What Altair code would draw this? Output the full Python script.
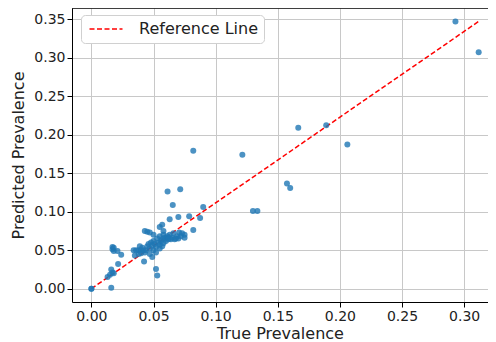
import altair as alt
import pandas as pd

true_vals = [
    0.0, 0.0, 0.016, 0.013, 0.015, 0.017, 0.016, 0.018, 0.0215,
    0.017, 0.018, 0.017, 0.018, 0.021, 0.024,
    0.034, 0.036, 0.038, 0.040, 0.042, 0.035, 0.038, 0.040, 0.0424,
    0.049, 0.052, 0.053,
    0.043, 0.045, 0.047, 0.050, 0.055, 0.057, 0.058,
    0.063, 0.0655, 0.0613, 0.0715, 0.070, 0.0787, 0.0875, 0.090,
    0.0706, 0.082,
    0.045, 0.046, 0.047, 0.048, 0.049, 0.050, 0.050, 0.051, 0.052, 0.053,
    0.054, 0.055, 0.055, 0.056, 0.057, 0.058, 0.058, 0.059, 0.060, 0.060,
    0.061, 0.062, 0.062, 0.063, 0.064, 0.065, 0.066, 0.067, 0.068, 0.069,
    0.070, 0.072, 0.073, 0.075, 0.075, 0.044, 0.043, 0.047, 0.052, 0.055,
    0.057, 0.041, 0.039,
    0.082, 0.1215, 0.1665, 0.189, 0.206, 0.1574, 0.160, 0.130, 0.1336,
    0.293, 0.3117,
]
pred_vals = [
    0.0, 0.0, 0.001, 0.015, 0.018, 0.021, 0.025, 0.020, 0.032,
    0.054, 0.053, 0.051, 0.049, 0.049, 0.044,
    0.050, 0.050, 0.050, 0.050, 0.050, 0.043, 0.045, 0.046, 0.0354,
    0.041, 0.0255, 0.017,
    0.075, 0.074, 0.073, 0.070, 0.080, 0.083, 0.075,
    0.090, 0.1086, 0.126, 0.129, 0.093, 0.094, 0.0917, 0.106,
    0.073, 0.076,
    0.055, 0.058, 0.052, 0.060, 0.056, 0.050, 0.062, 0.058, 0.054, 0.065,
    0.060, 0.057, 0.068, 0.062, 0.064, 0.059, 0.070, 0.066, 0.062, 0.065,
    0.068, 0.064, 0.066, 0.070, 0.064, 0.066, 0.072, 0.064, 0.065, 0.068,
    0.065, 0.068, 0.072, 0.070, 0.066, 0.050, 0.047, 0.045, 0.047, 0.052,
    0.055, 0.053, 0.055,
    0.179, 0.174, 0.209, 0.212, 0.187, 0.1366, 0.1306, 0.1008, 0.1008,
    0.347, 0.307,
]
ref_x = [0.0, 0.3117]
ref_y = [0.0, 0.347]
ref_label = ["Reference Line", "Reference Line"]

x_ticks = [0.0, 0.05, 0.10, 0.15, 0.20, 0.25, 0.30]
y_ticks = [0.0, 0.05, 0.10, 0.15, 0.20, 0.25, 0.30, 0.35]

pts = pd.DataFrame({"true": true_vals, "pred": pred_vals})
ref = pd.DataFrame({"true": ref_x, "pred": ref_y, "label": ref_label})

FONT = "DejaVu Sans"
W, H = 416, 294
xscale = alt.Scale(domain=[-0.0156, 0.3192], nice=False, zero=False)
yscale = alt.Scale(domain=[-0.01735, 0.3644], nice=False, zero=False)

xaxis = alt.Axis(values=x_ticks, format=".2f", title="True Prevalence",
                 grid=True, tickSize=5, labelPadding=2, titlePadding=2)
yaxis = alt.Axis(values=y_ticks, format=".2f", title="Predicted Prevalence",
                 grid=True, tickSize=5, labelPadding=2, titlePadding=7)

points = alt.Chart(pts).mark_circle(size=36, opacity=0.8, color="#1f77b4").encode(
    x=alt.X("true:Q", scale=xscale, axis=xaxis),
    y=alt.Y("pred:Q", scale=yscale, axis=yaxis),
)

line = alt.Chart(ref).mark_line(strokeDash=[5, 2.5], strokeWidth=1.5).encode(
    x=alt.X("true:Q", scale=xscale),
    y=alt.Y("pred:Q", scale=yscale),
    color=alt.Color(
        "label:N",
        scale=alt.Scale(domain=["Reference Line"], range=["red"]),
        legend=alt.Legend(
            title=None, orient="none", legendX=9, legendY=7,
            symbolType="M-1,0H5", symbolSize=121, symbolStrokeWidth=1.5,
            symbolDash=[5, 2.5], labelFontSize=16, labelFont=FONT,
            labelColor="#222", labelOffset=36, padding=6,
            fillColor="white", strokeColor="#d0d0d0", cornerRadius=4,
        ),
    ),
)

# top border of the axes frame (right side is cut off in the reference)
top_border = alt.Chart(ref).mark_rule(color="black", strokeWidth=1).encode(
    x=alt.value(0), x2=alt.value(W), y=alt.value(0)
)

chart = (line + points + top_border).properties(
    width=W, height=H,
    autosize=alt.AutoSizeParams(type="none"),
    padding={"left": 64, "top": 0, "right": 0, "bottom": 40},
).configure_view(
    stroke=None
).configure_axis(
    labelFont=FONT, titleFont=FONT, labelFontSize=14, titleFontSize=16,
    labelColor="#222", titleColor="#222", titleFontWeight="normal",
    gridColor="#c8c8c8", gridWidth=1, domainColor="black", tickColor="black",
)

chart.save("out.html", embed_options={"renderer": "svg", "actions": False})
